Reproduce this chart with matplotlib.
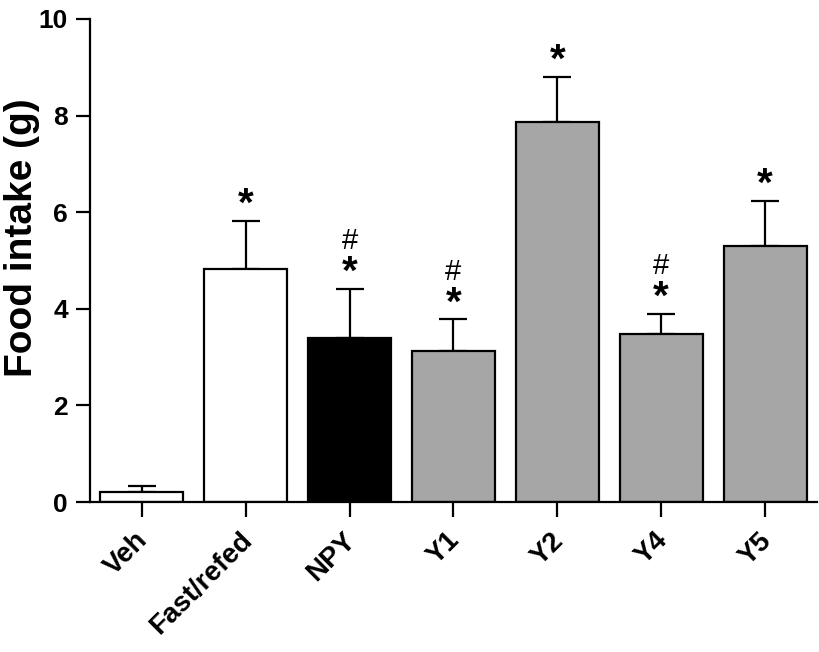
import matplotlib
matplotlib.use("Agg")
import matplotlib.pyplot as plt
from matplotlib.transforms import ScaledTranslation

plt.rcParams['font.family'] = ['Liberation Sans', 'DejaVu Sans']

categories = ["Veh", "Fast/refed", "NPY", "Y1", "Y2", "Y4", "Y5"]
means = [0.20, 4.82, 3.39, 3.12, 7.87, 3.47, 5.31]
errors = [0.13, 1.00, 1.02, 0.66, 0.93, 0.43, 0.92]
colors = ["white", "white", "black", "#a6a6a6", "#a6a6a6", "#a6a6a6", "#a6a6a6"]
stars = ["", "*", "*", "*", "*", "*", "*"]
hashes = ["", "", "#", "#", "", "#", ""]

fig = plt.figure(figsize=(8.2, 6.52), dpi=100)
ax = fig.add_axes([90/820, 150/652, 727/820, 483/652])

x = list(range(len(categories)))
ax.bar(x, means, width=0.8, color=colors, edgecolor="black", linewidth=1.6, zorder=2)
ax.errorbar(x, means, yerr=[[0]*len(errors), errors], fmt="none", ecolor="black",
            elinewidth=1.6, capsize=10, capthick=1.6, zorder=1)

for i in x:
    top = means[i] + errors[i]
    if stars[i]:
        ax.text(i, top - 0.06, stars[i], ha="center", va="bottom", fontsize=29,
                fontweight="bold")
    if hashes[i]:
        ax.text(i, top + 0.70, hashes[i], ha="center", va="bottom", fontsize=21)

for s in ["top", "right"]:
    ax.spines[s].set_visible(False)
for s in ["left", "bottom"]:
    ax.spines[s].set_linewidth(1.6)
ax.tick_params(axis="both", direction="out", width=1.6, length=10, pad=6)
ax.tick_params(axis="x", length=11, pad=8)

ax.set_xlim(-0.5, 6.5)
ax.set_ylim(0, 10)
ax.set_yticks([0, 2, 4, 6, 8, 10])
ax.set_xticks(x)
ax.set_xticklabels(categories, rotation=45, ha="right", rotation_mode="anchor",
                   fontsize=20, fontweight="bold")
offset = ScaledTranslation(-7/100, 1/100, fig.dpi_scale_trans)
for lbl in ax.get_xticklabels():
    lbl.set_transform(lbl.get_transform() + offset)
for lbl in ax.get_yticklabels():
    lbl.set_fontweight("bold")
    lbl.set_fontsize(19)
ax.set_ylabel("Food intake (g)", fontsize=28, fontweight="bold")
ax.yaxis.label.set_va("center")
ax.yaxis.set_label_coords(-68/727, (502-238)/483)

fig.savefig("out.png", dpi=100)
